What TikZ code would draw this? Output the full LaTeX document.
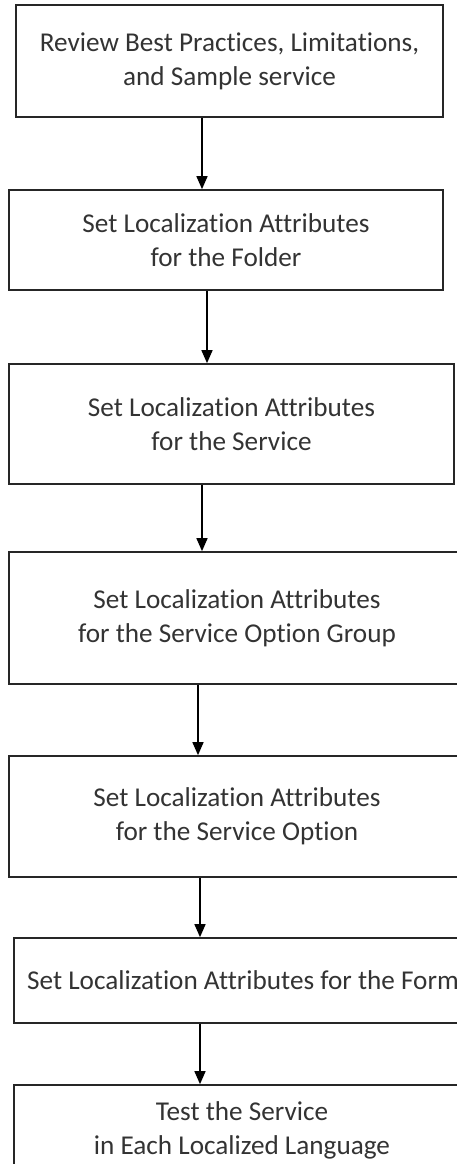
\documentclass[tikz,border=0pt]{standalone}
\usepackage{fontspec}
\setmainfont{Carlito}[Ligatures=NoCommon]
\usetikzlibrary{
  arrows.meta, % for the Triangle arrow tip
}
\tikzset{
  stepbox/.style={ % style for each step of the flow
    rectangle,draw=black!85,line width=1.7pt, % drawn as a thick rectangle
    text=black!80, % dark grey text
    align=center, % centre the lines of text
    inner sep=0pt, % sizes are set by minimum width/height
    font=\fontsize{27.2}{34}\selectfont,
  },
  conn/.style={ % style for the connections
    -{Triangle[width=11pt,length=13pt]}, % filled triangle tip
    line width=1.6pt,black,
  },
}

\begin{document}
\begin{tikzpicture}[x=1pt,y=-1pt]

	\clip (0,0) rectangle (457,1164);
	\useasboundingbox (0,0) rectangle (457,1164);

	\node[stepbox,minimum width=427pt,minimum height=112pt] (review) at (229.5,61) {Review Best Practices, Limitations,\\and Sample service};
	\node[stepbox,minimum width=434pt,minimum height=100pt] (folder) at (226,240) {Set Localization Attributes\\for the Folder};
	\node[stepbox,minimum width=445pt,minimum height=120pt] (service) at (231.5,424) {Set Localization Attributes\\for the Service};
	\node[stepbox,minimum width=456pt,minimum height=132pt] (group) at (237,618) {Set Localization Attributes\\for the Service Option Group};
	\node[stepbox,minimum width=456pt,minimum height=121pt] (option) at (237,816.5) {Set Localization Attributes\\for the Service Option};
	\node[stepbox,minimum width=458pt,minimum height=85pt] (form) at (243,980.5) {Set Localization Attributes for the Form};
	\node[stepbox,minimum width=456pt,minimum height=90pt] (test) at (242,1130) {Test the Service\\in Each Localized Language};

	\draw[conn] (202,0 |- review.south) -- (202,0 |- folder.north);
	\draw[conn] (207,0 |- folder.south) -- (207,0 |- service.north);
	\draw[conn] (202,0 |- service.south) -- (202,0 |- group.north);
	\draw[conn] (198,0 |- group.south) -- (198,0 |- option.north);
	\draw[conn] (200,0 |- option.south) -- (200,0 |- form.north);
	\draw[conn] (200,0 |- form.south) -- (200,0 |- test.north);

\end{tikzpicture}
\end{document}
